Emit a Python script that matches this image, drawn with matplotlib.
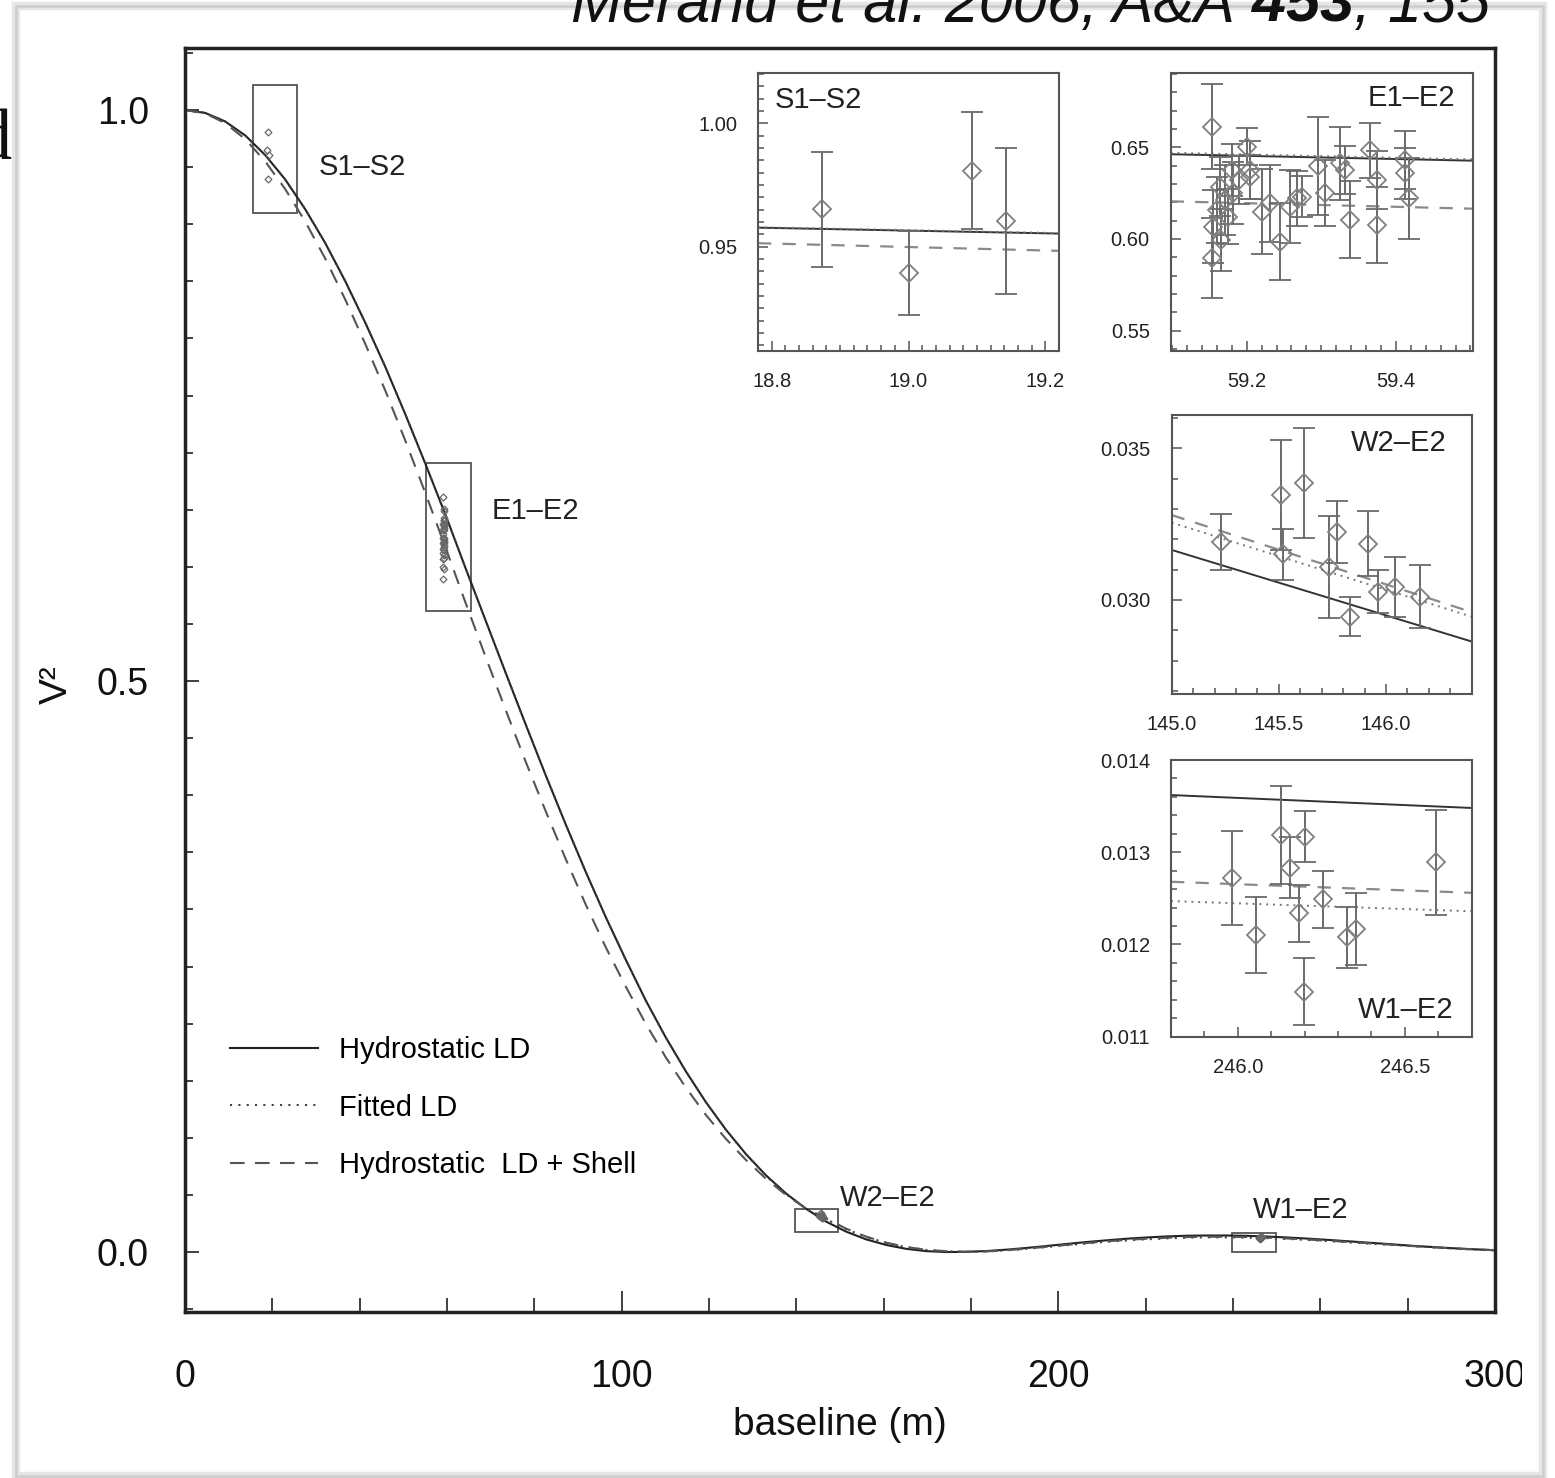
import matplotlib
matplotlib.use('Agg')
import matplotlib.pyplot as plt
from matplotlib.patches import Rectangle
from matplotlib.ticker import MultipleLocator, FixedLocator, FormatStrFormatter
from matplotlib.transforms import Bbox, TransformedBbox

plt.rcParams['font.family'] = ['Liberation Sans', 'DejaVu Sans']

# model curves
baseline = [0.0, 4.6, 9.2, 13.8, 18.4, 22.9, 27.5, 32.1, 36.7, 41.3, 45.9, 50.5,
            55.1, 59.7, 64.2, 68.8, 73.4, 78.0, 82.6, 87.2, 91.8, 96.4, 101.0,
            105.5, 110.1, 114.7, 119.3, 123.9, 128.5, 133.1, 137.7, 142.3, 146.8,
            151.4, 156.0, 160.6, 165.2, 169.8, 174.4, 179.0, 183.6, 188.1, 192.7,
            197.3, 201.9, 206.5, 211.1, 215.7, 220.3, 224.9, 229.5, 234.0, 238.6,
            243.2, 247.8, 252.4, 257.0, 261.6, 266.2, 270.8, 275.3, 279.9, 284.5,
            289.1, 293.7, 298.3, 302.9]
v2_hydro = [1.0000, 0.9975, 0.9900, 0.9777, 0.9604, 0.9394, 0.9133, 0.8836, 0.8501,
            0.8136, 0.7748, 0.7331, 0.6897, 0.6450, 0.5993, 0.5534, 0.5075, 0.4621,
            0.4175, 0.3743, 0.3326, 0.2929, 0.2555, 0.2204, 0.1879, 0.1582, 0.1312,
            0.1070, 0.0856, 0.0670, 0.0511, 0.0377, 0.0267, 0.0179, 0.0111, 0.0062,
            0.0028, 0.0008, 0.0000, 0.0002, 0.0009, 0.0021, 0.0036, 0.0053, 0.0071,
            0.0088, 0.0103, 0.0117, 0.0128, 0.0137, 0.0143, 0.0145, 0.0145, 0.0142,
            0.0136, 0.0128, 0.0118, 0.0107, 0.0095, 0.0083, 0.0071, 0.0058, 0.0047,
            0.0036, 0.0027, 0.0019, 0.0012]
v2_fitted = [1.0000, 0.9975, 0.9900, 0.9777, 0.9604, 0.9394, 0.9133, 0.8836, 0.8501,
             0.8136, 0.7748, 0.7331, 0.6897, 0.6450, 0.5993, 0.5534, 0.5075, 0.4621,
             0.4175, 0.3743, 0.3326, 0.2929, 0.2555, 0.2204, 0.1879, 0.1582, 0.1312,
             0.1070, 0.0856, 0.0665, 0.0505, 0.0380, 0.0290, 0.0200, 0.0132, 0.0080,
             0.0042, 0.0018, 0.0006, 0.0003, 0.0006, 0.0015, 0.0029, 0.0044, 0.0060,
             0.0075, 0.0090, 0.0102, 0.0112, 0.0120, 0.0126, 0.0129, 0.0129, 0.0127,
             0.0122, 0.0115, 0.0106, 0.0097, 0.0086, 0.0075, 0.0065, 0.0054, 0.0044,
             0.0034, 0.0025, 0.0018, 0.0012]
v2_shell = [1.0000, 0.9972, 0.9885, 0.9745, 0.9548, 0.9310, 0.9025, 0.8700, 0.8340,
            0.7950, 0.7540, 0.7100, 0.6640, 0.6165, 0.5690, 0.5215, 0.4750, 0.4295,
            0.3860, 0.3440, 0.3040, 0.2665, 0.2320, 0.2000, 0.1705, 0.1440, 0.1200,
            0.0990, 0.0805, 0.0640, 0.0498, 0.0380, 0.0295, 0.0205, 0.0135, 0.0082,
            0.0044, 0.0020, 0.0007, 0.0003, 0.0006, 0.0016, 0.0030, 0.0046, 0.0063,
            0.0079, 0.0094, 0.0107, 0.0117, 0.0125, 0.0131, 0.0134, 0.0134, 0.0131,
            0.0126, 0.0119, 0.0110, 0.0100, 0.0089, 0.0078, 0.0067, 0.0055, 0.0045,
            0.0035, 0.0026, 0.0019, 0.0012]

# measurements per baseline
s1s2_b = [18.874, 19.000, 19.093, 19.142]
s1s2_v2 = [0.9652, 0.9392, 0.9807, 0.9604]
s1s2_err = [0.0233, 0.0171, 0.0237, 0.0297]

e1e2_b = [59.153, 59.153, 59.155, 59.160, 59.164, 59.166, 59.171, 59.175, 59.180,
          59.182, 59.189, 59.200, 59.205, 59.205, 59.220, 59.231, 59.245, 59.258,
          59.267, 59.274, 59.296, 59.305, 59.325, 59.332, 59.338, 59.365, 59.374,
          59.374, 59.412, 59.412, 59.417]
e1e2_v2 = [0.6613, 0.5895, 0.6067, 0.6158, 0.6285, 0.5995, 0.6213, 0.6122, 0.6376,
           0.6249, 0.6322, 0.6504, 0.6376, 0.6340, 0.6149, 0.6195, 0.5985, 0.6176,
           0.6222, 0.6231, 0.6398, 0.6249, 0.6413, 0.6376, 0.6104, 0.6485, 0.6322,
           0.6076, 0.6431, 0.6358, 0.6222]
e1e2_err = [0.023, 0.022, 0.020, 0.018, 0.016, 0.017, 0.019, 0.015, 0.014, 0.017,
            0.013, 0.010, 0.016, 0.012, 0.023, 0.021, 0.021, 0.020, 0.015, 0.011,
            0.027, 0.018, 0.020, 0.013, 0.021, 0.015, 0.016, 0.021, 0.016, 0.014,
            0.022]

w2e2_b = [145.229, 145.508, 145.518, 145.616, 145.732, 145.771, 145.833, 145.918,
          145.964, 146.042, 146.158]
w2e2_v2 = [0.03192, 0.03346, 0.03150, 0.03385, 0.03110, 0.03225, 0.02945, 0.03185,
           0.03027, 0.03044, 0.03011]
w2e2_err = [0.00092, 0.00181, 0.00085, 0.00181, 0.00168, 0.00103, 0.00064, 0.00107,
            0.00071, 0.00099, 0.00104]

w1e2_b = [245.982, 246.053, 246.128, 246.157, 246.182, 246.202, 246.199, 246.256,
          246.326, 246.354, 246.593]
w1e2_v2 = [0.01272, 0.01210, 0.01319, 0.01283, 0.01234, 0.01317, 0.01149, 0.01249,
           0.01208, 0.01217, 0.01289]
w1e2_err = [0.00051, 0.00041, 0.00053, 0.00033, 0.00031, 0.00028, 0.00036, 0.00031,
            0.00033, 0.00039, 0.00057]

# model lines inside each zoom (values at the two edges of the zoom)
s1s2_line_b = [18.78, 19.22]
s1s2_hydro = [0.9577, 0.9553]
s1s2_fitted = [0.9579, 0.9555]
s1s2_shell = [0.9514, 0.9483]

e1e2_line_b = [59.098, 59.503]
e1e2_hydro = [0.6462, 0.6427]
e1e2_fitted = [0.6470, 0.6434]
e1e2_shell = [0.6205, 0.6165]

w2e2_line_b = [145.0, 146.4]
w2e2_hydro = [0.03165, 0.02863]
w2e2_fitted = [0.03255, 0.02945]
w2e2_shell = [0.03280, 0.02960]

w1e2_line_b = [245.8, 246.7]
w1e2_hydro = [0.01362, 0.01348]
w1e2_fitted = [0.01247, 0.01236]
w1e2_shell = [0.01268, 0.01256]

# boxes marking the zoomed regions on the main curve
box_names = ['S1–S2', 'E1–E2', 'W2–E2', 'W1–E2']
box_b0 = [15.6, 55.1, 139.8, 239.7]
box_b1 = [25.7, 65.4, 149.6, 249.8]
box_v0 = [0.910, 0.561, 0.0175, 0.0004]
box_v1 = [1.022, 0.691, 0.038, 0.0169]

fig = plt.figure(figsize=(15.55, 14.78), dpi=100)

# grey frame of the page
fig.add_artist(Rectangle((16 / 1555, 0.0015), 1527 / 1555, 1470 / 1478,
                         transform=fig.transFigure, fill=False, ec='#e6e6e6', lw=6, zorder=-2))
fig.add_artist(Rectangle((16 / 1555, 0.0015), 1527 / 1555, 1470 / 1478,
                         transform=fig.transFigure, fill=False, ec='#cfcfcf', lw=2, zorder=-1))

ax = fig.add_axes([0.1190, 0.1123, 0.8424, 0.8552])
ax.plot(baseline, v2_hydro, color='#222222', lw=1.5, label='Hydrostatic LD')
ax.plot(baseline, v2_fitted, color='#444444', lw=1.5, ls=(0, (1, 3)), label='Fitted LD')
ax.plot(baseline, v2_shell, color='#555555', lw=1.5, ls=(0, (7, 5)),
        label='Hydrostatic  LD + Shell')

for b, v in [(s1s2_b, s1s2_v2), (e1e2_b, e1e2_v2), (w2e2_b, w2e2_v2), (w1e2_b, w1e2_v2)]:
    ax.plot(b, v, 'D', ms=3.5, mfc='none', mec='#666666', mew=0.9)

for b0, b1, v0, v1 in zip(box_b0, box_b1, box_v0, box_v1):
    ax.add_patch(Rectangle((b0, v0), b1 - b0, v1 - v0, fill=False, ec='#555555', lw=1.3))

label_pos = [(30.5, 0.950), (70.3, 0.649), (150.0, 0.047), (244.6, 0.037)]
for name, (lx, ly) in zip(box_names, label_pos):
    ax.text(lx, ly, name, fontsize=21, ha='left', va='center', color='#222222')

ax.set_xlim(0, 300)
ax.set_ylim(-0.0525, 1.0543)
ax.xaxis.set_major_locator(FixedLocator([0, 100, 200, 300]))
ax.xaxis.set_minor_locator(MultipleLocator(20))
ax.yaxis.set_major_locator(FixedLocator([0.0, 0.5, 1.0]))
ax.yaxis.set_minor_locator(MultipleLocator(0.05))
ax.xaxis.set_major_formatter(FormatStrFormatter('%d'))
ax.yaxis.set_major_formatter(FormatStrFormatter('%.1f'))
ax.tick_params(axis='x', which='major', direction='in', length=15, width=1.3, pad=34,
               labelsize=27, top=False, colors='#333333', labelcolor='#111111')
ax.tick_params(axis='x', which='minor', direction='in', length=10, width=1.3, top=False,
               colors='#333333')
ax.tick_params(axis='y', which='major', direction='in', length=10, width=1.3, pad=26,
               labelsize=27, right=False, colors='#333333', labelcolor='#111111')
ax.tick_params(axis='y', which='minor', direction='in', length=6, width=1.3, right=False,
               colors='#333333')
for s in ax.spines.values():
    s.set_linewidth(2.5)
    s.set_color('#222222')

ax.set_xlabel('baseline (m)', fontsize=28, color='#111111')
ax.xaxis.set_label_coords(0.5, -0.075)
ax.set_ylabel('V²', fontsize=28, color='#111111')
ax.yaxis.set_label_coords(-0.084, 0.496)

ax.legend(loc='upper left', bbox_to_anchor=(0.0344, 0.2183), frameon=False, fontsize=21,
          handlelength=3.0, handletextpad=0.75, labelspacing=1.01, borderpad=0,
          borderaxespad=0)

# the "300" label is cut by the edge of the scanned page
clip = TransformedBbox(Bbox([[0, 0], [1522 / 1555, 1]]), fig.transFigure)
for t in ax.xaxis.get_major_ticks():
    t.label1.set_clip_box(clip)
    t.label1.set_clip_on(True)


def draw_zoom(rect, b, v2, err, line_b, hydro, fitted, shell, xlim, ylim,
              xmajor, xminor, ymajor, yminor, xfmt, yfmt, name, name_xy, name_ha):
    a = fig.add_axes(rect)
    a.plot(line_b, hydro, color='#333333', lw=1.4)
    a.plot(line_b, fitted, color='#777777', lw=1.4, ls=(0, (1, 2.5)))
    a.plot(line_b, shell, color='#8a8a8a', lw=1.6, ls=(0, (6, 5)))
    a.errorbar(b, v2, yerr=err, fmt='D', ms=9, mfc='none', mec='#808080', mew=1.3,
               ecolor='#6a6a6a', elinewidth=1.4, capsize=8, capthick=1.4)
    a.set_xlim(*xlim)
    a.set_ylim(*ylim)
    a.xaxis.set_major_locator(FixedLocator(xmajor))
    a.xaxis.set_minor_locator(MultipleLocator(xminor))
    a.yaxis.set_major_locator(FixedLocator(ymajor))
    a.yaxis.set_minor_locator(MultipleLocator(yminor))
    a.xaxis.set_major_formatter(FormatStrFormatter(xfmt))
    a.yaxis.set_major_formatter(FormatStrFormatter(yfmt))
    a.tick_params(which='major', direction='in', length=7, width=1.1, labelsize=14.5,
                  pad=15, top=False, right=False, colors='#555555', labelcolor='#222222')
    a.tick_params(which='minor', direction='in', length=4, width=1.1, top=False,
                  right=False, colors='#555555')
    for s in a.spines.values():
        s.set_linewidth(1.5)
        s.set_color('#555555')
    a.text(name_xy[0], name_xy[1], name, transform=a.transAxes, fontsize=21,
           ha=name_ha, va='center', color='#222222')
    return a


draw_zoom([0.48746, 0.76252, 0.19357, 0.18809], s1s2_b, s1s2_v2, s1s2_err,
          s1s2_line_b, s1s2_hydro, s1s2_fitted, s1s2_shell,
          (18.78, 19.22), (0.9077, 1.0204), [18.8, 19.0, 19.2], 0.02,
          [0.95, 1.00], 0.005, '%.1f', '%.2f', 'S1–S2', (0.056, 0.903), 'left')
draw_zoom([0.75286, 0.76272, 0.19421, 0.18809], e1e2_b, e1e2_v2, e1e2_err,
          e1e2_line_b, e1e2_hydro, e1e2_fitted, e1e2_shell,
          (59.098, 59.503), (0.539, 0.6907), [59.2, 59.4], 0.02,
          [0.55, 0.60, 0.65], 0.01, '%.1f', '%.2f', 'E1–E2', (0.941, 0.909), 'right')
draw_zoom([0.7535, 0.53045, 0.19293, 0.18877], w2e2_b, w2e2_v2, w2e2_err,
          w2e2_line_b, w2e2_hydro, w2e2_fitted, w2e2_shell,
          (145.0, 146.4), (0.0269, 0.0361), [145.0, 145.5, 146.0], 0.1,
          [0.030, 0.035], 0.001, '%.1f', '%.3f', 'W2–E2', (0.918, 0.900), 'right')
draw_zoom([0.75305, 0.29858, 0.19338, 0.18721], w1e2_b, w1e2_v2, w1e2_err,
          w1e2_line_b, w1e2_hydro, w1e2_fitted, w1e2_shell,
          (245.8, 246.7), (0.011, 0.014), [246.0, 246.5], 0.1,
          [0.011, 0.012, 0.013, 0.014], 0.0002, '%.1f', '%.3f', 'W1–E2',
          (0.938, 0.0965), 'right')

# reference line at the top, partly cut off by the page edge (as in the scan)
t3 = ax.annotate(', 155', xy=(1490 / 1555, 1 - 22 / 1478), xycoords='figure fraction',
                 ha='right', va='baseline', fontsize=44, style='italic', color='#111111',
                 annotation_clip=False)
t2 = ax.annotate(' 453', xy=(0, 0), xycoords=t3, ha='right', va='bottom', fontsize=44,
                 style='italic', weight='bold', color='#111111', annotation_clip=False)
ax.annotate('Mérand et al. 2006, A&A', xy=(0, 0), xycoords=t2, ha='right', va='bottom',
            fontsize=44, style='italic', color='#111111', annotation_clip=False)

# stray letter of the neighbouring page text
fig.text(12 / 1555, 1 - 160 / 1478, 'd', family=['Liberation Serif', 'DejaVu Serif'],
         fontsize=52, ha='right', va='baseline', color='#111111')

fig.savefig('out.png', dpi=100)
